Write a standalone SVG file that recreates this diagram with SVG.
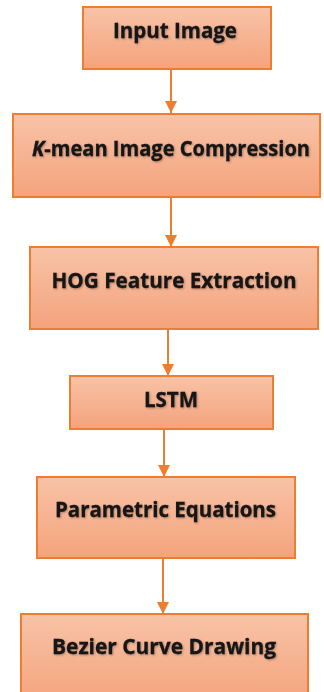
<svg xmlns="http://www.w3.org/2000/svg" width="324" height="692" viewBox="0 0 324 692">
  <defs>
    <linearGradient id="peach" x1="0" y1="0" x2="0" y2="1">
      <stop offset="0" stop-color="#f8c3a7"/>
      <stop offset="1" stop-color="#f4a37c"/>
    </linearGradient>
    <filter id="soft" x="-5%" y="-20%" width="110%" height="140%">
      <feGaussianBlur in="SourceAlpha" stdDeviation="0.8"/>
      <feOffset dx="0.8" dy="0.8" result="b"/>
      <feFlood flood-color="#000" flood-opacity="0.3"/>
      <feComposite in2="b" operator="in"/>
      <feMerge><feMergeNode/><feMergeNode in="SourceGraphic"/></feMerge>
    </filter>
    <marker id="head" viewBox="0 0 12 12" refX="12" refY="6" markerWidth="12" markerHeight="12" markerUnits="userSpaceOnUse" orient="auto">
      <path d="M0,0 L12,6 L0,12 Z" fill="#ed7d31"/>
    </marker>
  </defs>
  <style>
    .box { fill: url(#peach); stroke: #ed7d31; stroke-width: 2; }
    .label { font-family: "Open Sans", "Liberation Sans", sans-serif; font-weight: bold; font-size: 22px; fill: #141414; stroke: #141414; stroke-width: 0.3; text-anchor: middle; filter: url(#soft); }
    .long { font-size: 20.5px; }
    .link { stroke: #ed7d31; stroke-width: 2; fill: none; marker-end: url(#head); }
  </style>
  <rect width="324" height="692" fill="#ffffff"/>

  <g id="connectors">
    <line class="link" x1="171" y1="69" x2="171" y2="113"/>
    <line class="link" x1="171" y1="197" x2="171" y2="247"/>
    <line class="link" x1="168" y1="329" x2="168" y2="376"/>
    <line class="link" x1="164" y1="429" x2="164" y2="477"/>
    <line class="link" x1="163" y1="558" x2="163" y2="614"/>
  </g>

  <g id="input-image">
    <rect class="box" x="83" y="7" width="188" height="62"/>
    <text class="label" x="175" y="38" textLength="124" lengthAdjust="spacingAndGlyphs">Input Image</text>
  </g>

  <g id="kmean-compression">
    <rect class="box" x="13" y="114" width="307" height="83"/>
    <text class="label long" x="171" y="156" textLength="278" lengthAdjust="spacingAndGlyphs"><tspan font-style="italic">K</tspan>-mean Image Compression</text>
  </g>

  <g id="hog-extraction">
    <rect class="box" x="30" y="247" width="288" height="82"/>
    <text class="label" x="174" y="288" textLength="245" lengthAdjust="spacingAndGlyphs">HOG Feature Extraction</text>
  </g>

  <g id="lstm">
    <rect class="box" x="70" y="376" width="203" height="53"/>
    <text class="label" x="171" y="407" textLength="54" lengthAdjust="spacingAndGlyphs">LSTM</text>
  </g>

  <g id="parametric-equations">
    <rect class="box" x="37" y="477" width="258" height="81"/>
    <text class="label" x="165.5" y="517" textLength="221" lengthAdjust="spacingAndGlyphs">Parametric Equations</text>
  </g>

  <g id="bezier-drawing">
    <rect class="box" x="21" y="614" width="287" height="90"/>
    <text class="label" x="164" y="654" textLength="224" lengthAdjust="spacingAndGlyphs">Bezier Curve Drawing</text>
  </g>
</svg>
